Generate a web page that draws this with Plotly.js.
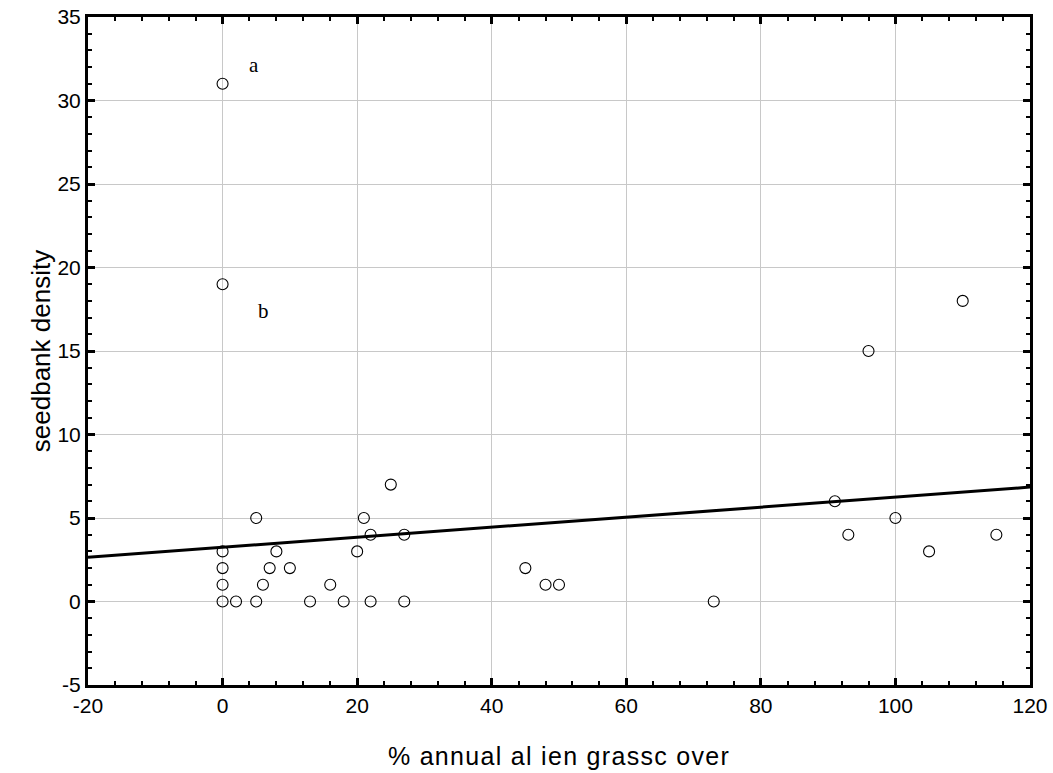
<!DOCTYPE html>
<html>
<head>
<meta charset="utf-8">
<script src="https://cdn.plot.ly/plotly-3.0.1.min.js"></script>
<style>
html,body{margin:0;padding:0;background:#fff;}
#chart{width:1053px;height:773px;}
.xtitle{letter-spacing:1.3px;}
</style>
</head>
<body>
<div id="chart"></div>
<script>
// Observed data: % annual alien grass cover vs seedbank density
const grassCover = [0, 0, 0, 0, 0, 0, 2, 5, 5, 6, 7, 8, 10, 13, 16, 18, 20, 21, 22, 22, 25, 27, 27, 45, 48, 50, 73, 91, 93, 96, 100, 105, 110, 115];
const seedDensity = [31, 19, 3, 2, 1, 0, 0, 5, 0, 1, 2, 3, 2, 0, 1, 0, 3, 5, 4, 0, 7, 4, 0, 2, 1, 1, 0, 6, 4, 15, 5, 3, 18, 4];
// Fitted regression line end points
const fitX = [-20, 120];
const fitY = [2.65, 6.85];
// Annotation labels
const labelText = ['a', 'b'];
const labelX = [4.6, 6.1];
const labelY = [32.1, 17.4];
const xTicks = [-20, 0, 20, 40, 60, 80, 100, 120];
const yTicks = [-5, 0, 5, 10, 15, 20, 25, 30, 35];

const traces = [
  {
    x: fitX, y: fitY, type: 'scatter', mode: 'lines',
    line: {color: '#000', width: 3}, hoverinfo: 'skip', showlegend: false
  },
  {
    x: grassCover, y: seedDensity, type: 'scatter', mode: 'markers',
    marker: {symbol: 'circle-open', size: 11, color: '#000', line: {color: '#000', width: 1.1}},
    showlegend: false, cliponaxis: false
  }
];

const FONT = 'Liberation Sans';
const axisCommon = {
  showline: true, linecolor: '#000', linewidth: 3, mirror: 'ticks',
  ticks: 'inside', ticklen: 7, tickwidth: 3, tickcolor: '#000',
  showgrid: true, gridcolor: '#c8c8c8', gridwidth: 1,
  zeroline: false,
  tickfont: {family: FONT, size: 21, color: '#000'}
};

const layout = {
  width: 1053, height: 773,
  margin: {l: 88, r: 23, t: 17, b: 88},
  paper_bgcolor: '#fff', plot_bgcolor: '#fff',
  font: {family: FONT},
  xaxis: Object.assign({}, axisCommon, {
    range: [-20, 120], tickmode: 'array', tickvals: xTicks, ticktext: xTicks.map(String),
    minor: {dtick: 4, tick0: -20, ticks: 'inside', ticklen: 4, tickwidth: 2, tickcolor: '#000', showgrid: false},
    title: {text: '% annual al ien grassc over', standoff: 32,
      font: {family: FONT, size: 25, color: '#000'}}
  }),
  yaxis: Object.assign({}, axisCommon, {
    range: [-5, 35], tickmode: 'array', tickvals: yTicks, ticktext: yTicks.map(String),
    minor: {dtick: 1, tick0: -5, ticks: 'inside', ticklen: 4, tickwidth: 2, tickcolor: '#000', showgrid: false},
    title: {text: 'seedbank density', standoff: 0,
      font: {family: FONT, size: 26, color: '#000'}}
  }),
  annotations: labelText.map((t, i) => ({
    x: labelX[i], y: labelY[i], xref: 'x', yref: 'y', text: t, showarrow: false,
    font: {family: 'Liberation Serif', size: 21, color: '#000'}
  }))
};

Plotly.newPlot('chart', traces, layout, {displayModeBar: false, staticPlot: true});
</script>
</body>
</html>
